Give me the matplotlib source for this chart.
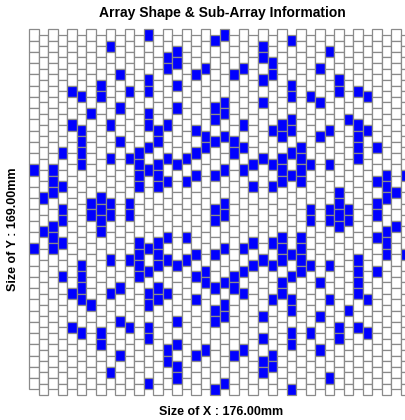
import matplotlib
matplotlib.use("Agg")
import matplotlib.pyplot as plt
from matplotlib.patches import Rectangle

# Array geometry (mm)
size_x = 176.0
size_y = 169.0
n_cols = 40
n_rows = 32
cell_w = size_x / n_cols            # 4.4 mm
cell_h = size_y / (n_rows + 0.5)    # 5.2 mm, odd columns shifted by half a cell

# Active sub-array elements: row indices (counted from the top) for each column
active_rows = [
    [12, 19],
    [14, 17],
    [12, 13, 14, 17, 18, 19],
    [10, 13, 15, 16, 18, 21],
    [5, 8, 23, 26],
    [5, 8, 9, 10, 11, 20, 21, 22, 23, 26],
    [7, 15, 16, 24],
    [4, 5, 14, 15, 16, 17, 26, 27],
    [1, 8, 11, 15, 16, 20, 23, 30],
    [3, 6, 9, 22, 25, 28],
    [5, 11, 15, 16, 20, 26],
    [10, 11, 12, 13, 18, 19, 20, 21],
    [0, 4, 5, 7, 8, 10, 12, 19, 21, 23, 24, 26, 27, 31],
    [8, 9, 11, 12, 13, 18, 19, 20, 22, 23],
    [2, 3, 8, 11, 13, 18, 20, 23, 28, 29],
    [1, 2, 4, 6, 11, 20, 25, 27, 29, 30],
    [11, 13, 18, 20],
    [3, 8, 10, 12, 19, 21, 23, 28],
    [3, 9, 10, 21, 22, 28],
    [0, 6, 7, 9, 12, 15, 16, 19, 22, 24, 25, 31],
    [0, 6, 7, 9, 12, 15, 16, 19, 22, 24, 25, 31],
    [3, 9, 10, 21, 22, 28],
    [3, 8, 10, 12, 19, 21, 23, 28],
    [11, 13, 18, 20],
    [1, 2, 4, 6, 11, 20, 25, 27, 29, 30],
    [2, 3, 8, 11, 13, 18, 20, 23, 28, 29],
    [8, 9, 11, 12, 13, 18, 19, 20, 22, 23],
    [0, 4, 5, 7, 8, 10, 12, 19, 21, 23, 24, 26, 27, 31],
    [10, 11, 12, 13, 18, 19, 20, 21],
    [5, 11, 15, 16, 20, 26],
    [3, 6, 9, 22, 25, 28],
    [1, 8, 11, 15, 16, 20, 23, 30],
    [4, 5, 14, 15, 16, 17, 26, 27],
    [7, 15, 16, 24],
    [5, 8, 9, 10, 11, 20, 21, 22, 23, 26],
    [5, 8, 23, 26],
    [10, 13, 15, 16, 18, 21],
    [12, 13, 14, 17, 18, 19],
    [14, 17],
    [12, 19],
]

title = "Array Shape & Sub-Array Information"
xlabel = "Size of X : %.2fmm" % size_x
ylabel = "Size of Y : %.2fmm" % size_y

W, H = 406, 420
fig = plt.figure(figsize=(W / 100, H / 100), dpi=100)
ax = fig.add_axes([29.3 / W, 25.1 / H, 381.2 / W, 365.6 / H])
ax.set_xlim(0, size_x)
ax.set_ylim(0, size_y)
ax.axis("off")

edge = "#8a8a8a"
for c in range(n_cols):
    x0 = c * cell_w
    top = size_y - (cell_h / 2 if c % 2 else 0.0)
    on = set(active_rows[c])
    for r in range(n_rows):
        y0 = top - (r + 1) * cell_h
        face = "#0000ff" if r in on else "white"
        ax.add_patch(Rectangle((x0, y0), cell_w, cell_h, facecolor=face,
                               edgecolor=edge, linewidth=0.9, clip_on=False))

font = dict(family=["Liberation Sans", "DejaVu Sans"], weight="bold")
fig.text(222 / W, 1 - 13.5 / H, title, ha="center", va="center",
         size=10, **font)
fig.text(221 / W, 1 - 412 / H, xlabel, ha="center", va="center",
         size=9, **font)
fig.text(13 / W, 1 - 229 / H, ylabel, ha="center", va="center",
         rotation=90, size=9, **font)

fig.savefig("out.png", dpi=100)
